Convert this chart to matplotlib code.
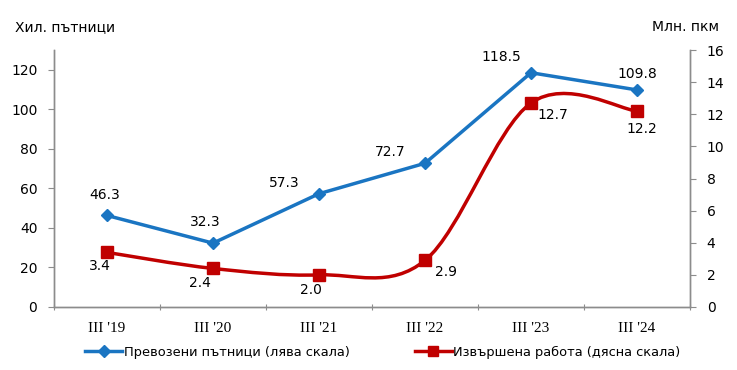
import matplotlib
matplotlib.use("Agg")
import matplotlib.pyplot as plt
from matplotlib.path import Path
from matplotlib.patches import PathPatch
from matplotlib.lines import Line2D
import numpy as np

categories = ["III '19", "III '20", "III '21", "III '22", "III '23", "III '24"]
passengers = [46.3, 32.3, 57.3, 72.7, 118.5, 109.8]
work = [3.4, 2.4, 2.0, 2.9, 12.7, 12.2]
left_ticks = [0, 20, 40, 60, 80, 100, 120]
right_ticks = [0, 2, 4, 6, 8, 10, 12, 14, 16]

blue = "#1A75C2"
red = "#C00000"
grey = "#8C8C8C"

plt.rcParams['font.family'] = ['DejaVu Sans']

fig = plt.figure(figsize=(7.37, 3.70), dpi=100)
ax = fig.add_axes([54/737, 1-307/370, (690-54)/737, (307-50)/370])
ax2 = ax.twinx()

x = np.arange(len(categories))

ax.plot(x, passengers, color=blue, lw=2.5, marker='D', ms=6.5, zorder=3)

# smoothed red line (Excel-style Bezier smoothing)
pts = list(zip(x, work))
verts = [pts[0]]
codes = [Path.MOVETO]
n = len(pts)
for i in range(n - 1):
    p0 = np.array(pts[i - 1] if i > 0 else pts[i], dtype=float)
    p1 = np.array(pts[i], dtype=float)
    p2 = np.array(pts[i + 1], dtype=float)
    p3 = np.array(pts[i + 2] if i + 2 < n else pts[i + 1], dtype=float)
    c1 = p1 + (p2 - p0) / 6
    c2 = p2 - (p3 - p1) / 6
    verts += [tuple(c1), tuple(c2), tuple(p2)]
    codes += [Path.CURVE4] * 3
patch = PathPatch(Path(verts, codes), facecolor='none', edgecolor=red, lw=2.5, zorder=3)
ax2.add_patch(patch)
ax2.plot(x, work, ls='none', color=red, marker='s', ms=8, zorder=4)

ax.set_xlim(-0.5, len(categories) - 0.5)
ax.set_ylim(0, 130)
ax2.set_ylim(0, 16)
ax.set_yticks(left_ticks)
ax2.set_yticks(right_ticks)

ax.set_xticks(np.arange(len(categories) + 1) - 0.5, minor=False)
ax.set_xticklabels([])
ax.set_xticks(x, minor=True)
ax.set_xticklabels(categories, minor=True, family='Liberation Serif', fontsize=11)
ax.tick_params(axis='x', which='minor', length=0, pad=11)
ax.tick_params(axis='x', which='major', length=4, direction='inout', color=grey)
ax.tick_params(axis='y', length=4, color=grey, labelsize=10, pad=8)
ax2.tick_params(axis='y', length=4, color=grey, labelsize=10, pad=8)

for a in (ax, ax2):
    a.spines['top'].set_visible(False)
    for s in ('left', 'right', 'bottom'):
        a.spines[s].set_color(grey)
        a.spines[s].set_linewidth(1)

# data labels (offsets in pixels)
blue_off = [(-2, 20), (-8, 21), (-35, 11), (-35, 11), (-30, 16), (0, 16)]
for xi, v, off in zip(x, passengers, blue_off):
    ax.annotate(f"{v:.1f}", (xi, v), xytext=off, textcoords='offset pixels',
                ha='center', va='center', fontsize=10)
red_off = [(-7, -14), (-13, -15), (-8, -15), (21, -12), (22, -12), (5, -18)]
for xi, v, off in zip(x, work, red_off):
    ax2.annotate(f"{v:.1f}", (xi, v), xytext=off, textcoords='offset pixels',
                 ha='center', va='center', fontsize=10)

fig.text(15/737, 1-27/370, "Хил. пътници", fontsize=10, va='center', ha='left')
fig.text(719/737, 1-27/370, "Млн. пкм", fontsize=10, va='center', ha='right')

h1 = Line2D([], [], color=blue, lw=2.5, marker='D', ms=6)
h2 = Line2D([], [], color=red, lw=2.5, marker='s', ms=7)
fig.legend([h1, h2], ["Превозени пътници (лява скала)", "Извършена работа (дясна скала)"],
           loc='center', bbox_to_anchor=(383/737, 1-352/370), ncol=2, frameon=False,
           fontsize=9.4, handlelength=2.8, handletextpad=0.15, columnspacing=5.0)

fig.savefig("out.png", dpi=100)
